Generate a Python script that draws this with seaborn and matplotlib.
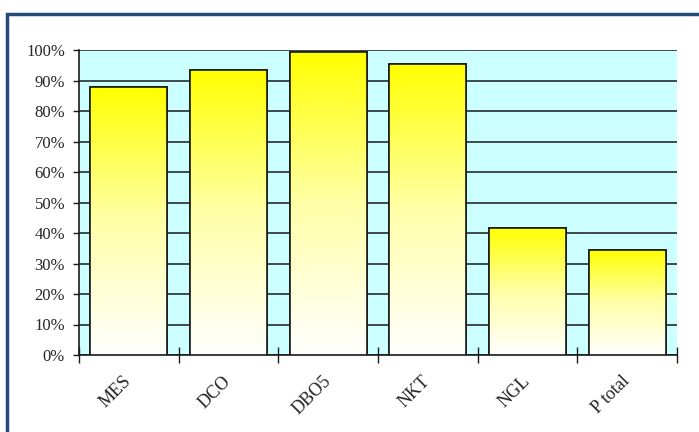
import matplotlib
matplotlib.use("Agg")
import matplotlib.pyplot as plt
import matplotlib.patches as mpatches
import numpy as np
import pandas as pd
import seaborn as sns
from matplotlib.colors import LinearSegmentedColormap
from matplotlib.ticker import MultipleLocator, FixedLocator, PercentFormatter

categories = ["MES", "DCO", "DBO5", "NKT", "NGL", "P total"]
values = [88, 93.5, 99.3, 95.5, 41.5, 34.5]

sns.set_theme(style="white")
plt.rcParams["font.family"] = ["Liberation Serif", "DejaVu Serif"]

fig = plt.figure(figsize=(6.99, 4.32), dpi=100)
ax = fig.add_axes([79 / 699, 1 - 355 / 432, (677 - 79) / 699, (355 - 50) / 432])
ax.set_facecolor("#ccffff")

df = pd.DataFrame({"cat": categories, "val": values})
sns.barplot(data=df, x="cat", y="val", ax=ax, color="yellow", width=0.77,
            edgecolor="#1a1a1a", linewidth=1.2, saturation=1, zorder=3)

ax.set_xlim(-0.5, len(categories) - 0.5)
ax.set_ylim(0, 100)
ax.yaxis.set_major_locator(MultipleLocator(10))
ax.yaxis.set_major_formatter(PercentFormatter(decimals=0))
ax.grid(axis="y", color="#1a1a1a", linewidth=1.1, zorder=1)
ax.set_axisbelow(True)

cmap = LinearSegmentedColormap.from_list("yw", ["#ffffff", "#ffffa8", "#ffff00"])
grad = np.linspace(0, 1, 256).reshape(-1, 1)
for p in list(ax.patches):
    x0, y0 = p.get_x(), p.get_y()
    w, h = p.get_width(), p.get_height()
    im = ax.imshow(grad, extent=[x0, x0 + w, y0, y0 + h], origin="lower",
                   cmap=cmap, aspect="auto", zorder=3.5)
    im.set_clip_path(p)
    outline = mpatches.Rectangle((x0, y0), w, h, fill=False,
                                 edgecolor="#1a1a1a", linewidth=1.2, zorder=4)
    ax.add_patch(outline)

for s in ["top", "right"]:
    ax.spines[s].set_visible(False)
ax.spines["left"].set_color("#1a1a1a")
ax.spines["bottom"].set_color("#1a1a1a")
ax.spines["left"].set_linewidth(1.2)
ax.spines["bottom"].set_linewidth(1.2)

ax.set_xlabel("")
ax.set_ylabel("")
ax.tick_params(axis="y", which="major", direction="out", length=4, width=1,
               color="#1a1a1a", labelsize=12, pad=6, left=True)
ax.set_xticks(range(len(categories)))
ax.set_xticklabels(categories)
ax.tick_params(axis="x", which="major", length=0, pad=17, labelsize=13)
for lbl in ax.get_xticklabels():
    lbl.set_rotation(45)
    lbl.set_ha("right")
    lbl.set_va("center")
    lbl.set_rotation_mode("anchor")
ax.xaxis.set_minor_locator(FixedLocator(np.arange(-0.5, len(categories), 1.0)))
ax.tick_params(axis="x", which="minor", direction="inout", length=12, width=1,
               color="#1a1a1a", bottom=True)

# outer frame
frame = mpatches.Rectangle((7 / 699, -0.1), 1.2, (1 - 14 / 432) + 0.1,
                           transform=fig.transFigure, fill=False,
                           edgecolor="#264a7a", linewidth=2.5)
fig.patches.append(frame)

fig.savefig("out.png", dpi=100)
